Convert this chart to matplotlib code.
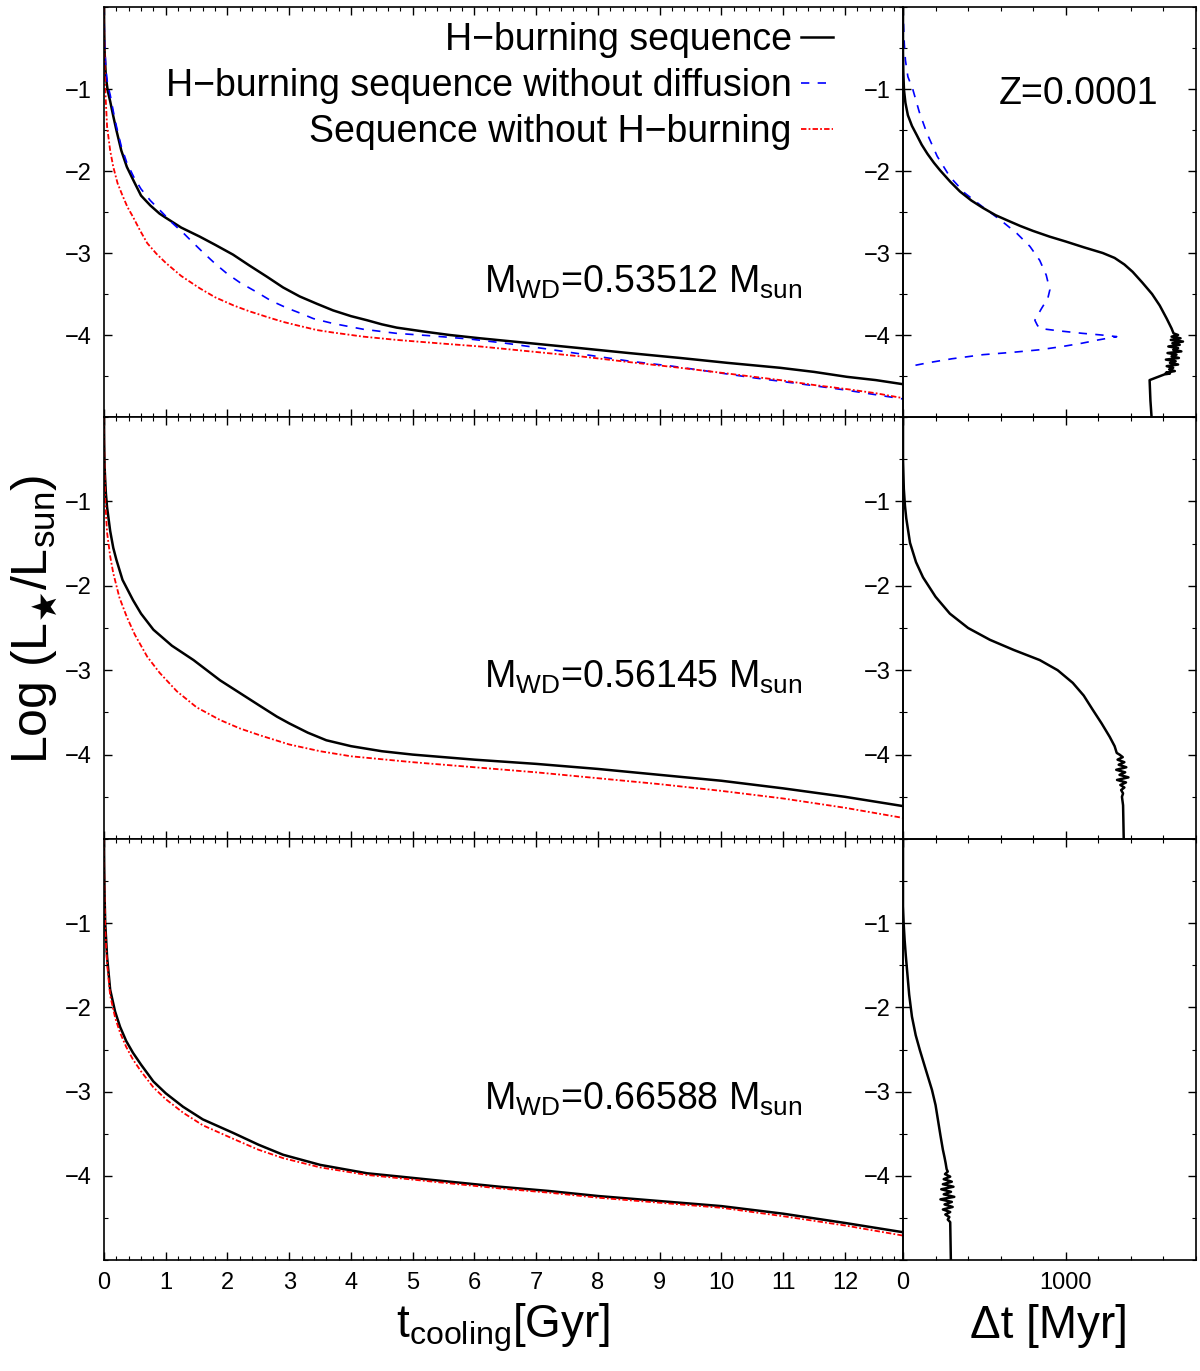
import matplotlib
matplotlib.use("Agg")
import matplotlib.pyplot as plt
from matplotlib.ticker import MultipleLocator, FixedLocator

plt.rcParams['font.family'] = ['Liberation Sans', 'DejaVu Sans']
plt.rcParams['mathtext.default'] = 'regular'

# ---- data: cooling curves, t [Gyr] vs log L ----
# M = 0.53512
top_h_t = [0, 0.003, 0.01, 0.03, 0.06, 0.1, 0.15, 0.2, 0.28, 0.37, 0.48, 0.6, 0.75, 0.9, 1.0, 1.25, 1.55, 1.8,
           2.09, 2.35, 2.64, 2.9, 3.17, 3.45, 3.71, 4.0, 4.26, 4.5, 4.74, 5.2, 5.6, 6.09, 6.9, 7.71, 8.5, 9.33,
           10.1, 10.95, 11.5, 12.03, 12.5, 12.94]
top_h_L = [0, -0.25, -0.55, -0.85, -1.02, -1.15, -1.33, -1.5, -1.75, -1.95, -2.12, -2.3, -2.42, -2.52, -2.57,
           -2.69, -2.80, -2.90, -3.02, -3.15, -3.29, -3.42, -3.53, -3.62, -3.70, -3.77, -3.82, -3.87, -3.91, -3.96,
           -4.00, -4.04, -4.10, -4.16, -4.22, -4.28, -4.34, -4.40, -4.45, -4.51, -4.55, -4.60]
top_nd_t = [0, 0.003, 0.01, 0.03, 0.06, 0.1, 0.15, 0.2, 0.28, 0.37, 0.48, 0.6, 0.75, 0.96, 1.1, 1.29, 1.45, 1.6,
            1.8, 1.99, 2.2, 2.48, 2.7, 2.96, 3.2, 3.39, 3.71, 4.2, 4.74, 5.3, 5.93, 6.5, 7.17, 7.8, 8.52, 9.2,
            9.86, 10.5, 11.22, 12.0, 12.94]
top_nd_L = [0, -0.2, -0.45, -0.75, -0.95, -1.07, -1.27, -1.45, -1.7, -1.9, -2.07, -2.22, -2.36, -2.52, -2.63,
            -2.76, -2.88, -2.99, -3.13, -3.25, -3.36, -3.48, -3.58, -3.67, -3.74, -3.80, -3.86, -3.93, -3.98, -4.01,
            -4.05, -4.10, -4.17, -4.24, -4.32, -4.38, -4.45, -4.52, -4.59, -4.67, -4.78]
top_noh_t = [0, 0.003, 0.01, 0.02, 0.05, 0.1, 0.15, 0.22, 0.3, 0.38, 0.47, 0.58, 0.7, 0.85, 1.0, 1.25, 1.55, 1.8,
             2.1, 2.35, 2.64, 2.9, 3.17, 3.45, 3.71, 4.2, 4.74, 5.4, 6.09, 6.9, 7.71, 8.5, 9.33, 10.1, 10.95, 11.5,
             12.03, 12.5, 12.94]
top_noh_L = [0, -0.3, -0.7, -1.0, -1.46, -1.75, -1.95, -2.15, -2.3, -2.44, -2.56, -2.72, -2.88, -3.01, -3.12,
             -3.28, -3.43, -3.54, -3.64, -3.71, -3.78, -3.84, -3.89, -3.94, -3.97, -4.02, -4.06, -4.10, -4.14, -4.20,
             -4.26, -4.33, -4.40, -4.47, -4.55, -4.61, -4.66, -4.71, -4.77]

# M = 0.56145
mid_h_t = [0, 0.003, 0.01, 0.03, 0.05, 0.1, 0.15, 0.2, 0.3, 0.47, 0.6, 0.8, 1.1, 1.45, 1.88, 2.2, 2.52, 2.8, 3.0,
           3.3, 3.6, 4.0, 4.5, 5.0, 6.0, 7.0, 8.0, 9.0, 10.0, 11.0, 12.0, 12.94]
mid_h_L = [0, -0.3, -0.6, -0.9, -1.07, -1.35, -1.55, -1.69, -1.93, -2.17, -2.33, -2.52, -2.71, -2.88, -3.12,
           -3.27, -3.42, -3.55, -3.63, -3.74, -3.83, -3.90, -3.96, -4.00, -4.06, -4.11, -4.17, -4.24, -4.31, -4.40,
           -4.50, -4.61]
mid_noh_t = [0, 0.003, 0.01, 0.02, 0.05, 0.1, 0.15, 0.25, 0.37, 0.5, 0.7, 0.9, 1.18, 1.5, 1.88, 2.2, 2.52, 3.0,
             3.5, 4.0, 5.0, 6.0, 7.0, 8.0, 9.0, 10.0, 11.0, 12.0, 12.94]
mid_noh_L = [0, -0.3, -0.7, -1.0, -1.37, -1.65, -1.85, -2.14, -2.37, -2.58, -2.84, -3.03, -3.25, -3.44, -3.59,
             -3.69, -3.77, -3.88, -3.96, -4.02, -4.09, -4.15, -4.21, -4.28, -4.35, -4.43, -4.52, -4.63, -4.75]

# M = 0.66588
bot_t = [0, 0.003, 0.01, 0.02, 0.05, 0.1, 0.18, 0.26, 0.36, 0.47, 0.6, 0.8, 1.0, 1.28, 1.6, 2.09, 2.5, 2.9, 3.5,
         4.26, 4.8, 5.33, 6.41, 7.2, 8.0, 9.0, 10.0, 11.0, 12.0, 12.94]
bot_h_L = [0, -0.3, -0.7, -1.0, -1.4, -1.79, -2.05, -2.23, -2.4, -2.54, -2.68, -2.88, -3.02, -3.18, -3.33, -3.49,
           -3.63, -3.75, -3.87, -3.97, -4.01, -4.05, -4.13, -4.18, -4.24, -4.30, -4.36, -4.45, -4.56, -4.67]
bot_noh_L = [0, -0.35, -0.78, -1.08, -1.48, -1.86, -2.12, -2.3, -2.47, -2.62, -2.76, -2.95, -3.09, -3.25, -3.40,
             -3.56, -3.69, -3.79, -3.90, -3.99, -4.03, -4.07, -4.15, -4.20, -4.26, -4.32, -4.38, -4.48, -4.59, -4.71]

# ---- data: delay, dt [Myr] vs log L ----
top_dt = [0, 0, 2, 6, 15, 30, 55, 84, 115, 150, 190, 227, 290, 350, 420, 491, 570, 650, 720, 798, 900, 1000,
          1110, 1227, 1300, 1360, 1411, 1470, 1530, 1577, 1620, 1650, 1662,
          1690, 1650, 1705, 1645, 1720, 1655, 1700, 1630, 1690, 1660, 1710, 1625, 1680, 1650, 1695, 1615, 1675,
          1640, 1690, 1620, 1660, 1635, 1670, 1615, 1640,
          1607, 1515, 1520, 1527]
top_dt_L = [0, -0.55, -0.8, -1.01, -1.17, -1.32, -1.45, -1.56, -1.68, -1.79, -1.9, -1.99, -2.13, -2.25, -2.36,
            -2.45, -2.54, -2.61, -2.67, -2.73, -2.80, -2.86, -2.93, -3.0, -3.06, -3.14, -3.23, -3.36, -3.50, -3.64,
            -3.80, -3.92, -3.98,
            -4.00, -4.02, -4.04, -4.06, -4.08, -4.10, -4.12, -4.14, -4.16, -4.18, -4.20, -4.22, -4.24, -4.26, -4.28,
            -4.30, -4.32, -4.34, -4.36, -4.38, -4.40, -4.42, -4.44, -4.46, -4.47,
            -4.48, -4.55, -4.8, -5.0]
top_dt_nd = [0, 3, 8, 15, 30, 61, 100, 147, 210, 288, 380, 491, 600, 699, 780, 840, 880, 902, 890, 850, 810, 825,
             840, 960, 1104, 1220, 1313, 1200, 1100, 980, 840, 680, 491, 300, 150, 74]
top_dt_nd_L = [0, -0.2, -0.45, -0.65, -0.85, -1.01, -1.28, -1.54, -1.82, -2.07, -2.27, -2.44, -2.60, -2.76,
               -2.92, -3.09, -3.27, -3.45, -3.55, -3.68, -3.82, -3.88, -3.92, -3.95, -3.98, -4.0, -4.02, -4.06,
               -4.10, -4.14, -4.18, -4.21, -4.24, -4.29, -4.34, -4.37]

mid_dt = [0, 0, 5, 12, 20, 43, 80, 123, 200, 288, 400, 534, 680, 840, 950, 1043, 1110, 1166, 1220, 1270, 1300,
          1313,
          1330, 1350, 1318, 1360, 1325, 1372, 1310, 1365, 1330, 1385, 1315, 1370, 1335, 1360, 1340, 1352, 1345,
          1352, 1356]
mid_dt_L = [0, -0.5, -0.85, -1.05, -1.2, -1.49, -1.72, -1.9, -2.13, -2.33, -2.5, -2.64, -2.76, -2.88, -3.0, -3.15,
            -3.3, -3.47, -3.63, -3.79, -3.9, -3.98,
            -4.0, -4.03, -4.06, -4.09, -4.12, -4.15, -4.18, -4.21, -4.24, -4.27, -4.30, -4.33, -4.36, -4.39, -4.42,
            -4.46, -4.5,
            -4.6, -5.0]

bot_dt = [0, 0, 4, 10, 17, 25, 38, 55, 78, 104, 140, 178, 200, 215, 230, 245, 255, 262, 268,
          275, 258, 290, 250, 300, 245, 310, 235, 295, 250, 315, 230, 300, 255, 305, 245, 290, 260, 285, 275, 290,
          294]
bot_dt_L = [0, -0.8, -1.0, -1.2, -1.38, -1.56, -1.85, -2.11, -2.33, -2.51, -2.74, -2.98, -3.16, -3.34, -3.52,
            -3.69, -3.78, -3.85, -3.92,
            -3.95, -3.98, -4.01, -4.04, -4.07, -4.10, -4.13, -4.16, -4.19, -4.22, -4.25, -4.28, -4.31, -4.34, -4.37,
            -4.40, -4.43, -4.46, -4.49, -4.52, -4.55,
            -5.0]

masses = ['0.53512', '0.56145', '0.66588']
labels = ['H\u2212burning sequence', 'H\u2212burning sequence without diffusion', 'Sequence without H\u2212burning']

fig = plt.figure(figsize=(12, 13.71), dpi=100)

W, H = 1200.0, 1371.0
xl0, xl1, xr1 = 104, 903, 1196
rows = [(7, 417), (417, 839), (839, 1260)]

left_axes = []
right_axes = []
for (ytop, ybot) in rows:
    axl = fig.add_axes([xl0 / W, 1 - ybot / H, (xl1 - xl0) / W, (ybot - ytop) / H])
    left_axes.append(axl)
for (ytop, ybot) in rows:
    axr = fig.add_axes([xl1 / W, 1 - ybot / H, (xr1 - xl1) / W, (ybot - ytop) / H])
    right_axes.append(axr)

blk = dict(color='black', lw=1.8)
blu = dict(color='blue', lw=1.2, ls=(0, (5, 5)))
red = dict(color='red', lw=1.3, ls=(0, (3, 1.2, 1, 1.2)))

ax = left_axes[0]
ax.plot(top_h_t, top_h_L, label=labels[0], **blk)
ax.plot(top_nd_t, top_nd_L, label=labels[1], **blu)
ax.plot(top_noh_t, top_noh_L, label=labels[2], **red)
left_axes[1].plot(mid_h_t, mid_h_L, **blk)
left_axes[1].plot(mid_noh_t, mid_noh_L, **red)
left_axes[2].plot(bot_t, bot_h_L, **blk)
left_axes[2].plot(bot_t, bot_noh_L, **red)

right_axes[0].plot(top_dt_nd, top_dt_nd_L, **blu)
right_axes[0].plot(top_dt, top_dt_L, **blk)
right_axes[1].plot(mid_dt, mid_dt_L, **blk)
right_axes[2].plot(bot_dt, bot_dt_L, **blk)

leg = left_axes[0].legend(loc='upper right', bbox_to_anchor=(0.931, 1.0), frameon=False,
                          markerfirst=False, fontsize=27, handlelength=0.85, handletextpad=0.25,
                          labelspacing=0.27, borderaxespad=0.0)

mass_y = [-3.49, -3.21, -3.21]
for ax, m, yy in zip(left_axes, masses, mass_y):
    ax.text(11.32, yy, 'M$_{WD}$=' + m + ' M$_{sun}$', ha='right', va='baseline', fontsize=27)

right_axes[0].text(1080, -1.18, 'Z=0.0001', ha='center', va='baseline', fontsize=27)

for i, ax in enumerate(left_axes):
    ax.set_xlim(0, 12.94)
    ax.set_ylim(-5, 0)
    ax.xaxis.set_major_locator(MultipleLocator(1))
    ax.xaxis.set_minor_locator(MultipleLocator(0.2))
    ax.yaxis.set_major_locator(FixedLocator([-4, -3, -2, -1]))
    ax.yaxis.set_minor_locator(MultipleLocator(0.5))
    ax.tick_params(which='both', direction='in', top=True, right=True, labelsize=17, pad=8.5)
    ax.tick_params(which='major', length=6, width=1)
    ax.tick_params(which='minor', length=3, width=0.8)
    if i < 2:
        ax.tick_params(labelbottom=False)

for i, ax in enumerate(right_axes):
    ax.set_xlim(0, 1800)
    ax.set_ylim(-5, 0)
    ax.xaxis.set_major_locator(MultipleLocator(1000))
    ax.xaxis.set_minor_locator(MultipleLocator(200))
    ax.yaxis.set_major_locator(FixedLocator([-4, -3, -2, -1]))
    ax.yaxis.set_minor_locator(MultipleLocator(0.5))
    ax.tick_params(which='both', direction='in', top=True, right=True, labelsize=17, pad=8.5)
    ax.tick_params(which='major', length=6, width=1)
    ax.tick_params(which='minor', length=3, width=0.8)
    ax.patch.set_alpha(0)
    if i < 2:
        ax.tick_params(labelbottom=False)

for ax in left_axes + right_axes:
    for sp in ax.spines.values():
        sp.set_linewidth(1.2)

fig.text(0.028, 0.548, r'Log (L$_{\bigstar}$/L$_{sun}$)', rotation=90, ha='center', va='center', fontsize=36)
fig.text(0.419, 0.0241, 't$_{cooling}$[Gyr]', ha='center', va='baseline', fontsize=33)
fig.text(0.874, 0.0241, '\u0394t [Myr]', ha='center', va='baseline', fontsize=33)

fig.savefig('out.png', dpi=100)
